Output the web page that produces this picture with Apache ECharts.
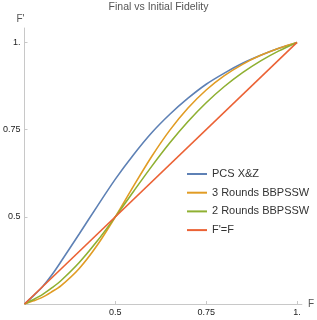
<!DOCTYPE html>
<html>
<head>
<meta charset="utf-8">
<script src="https://cdn.jsdelivr.net/npm/echarts@6/dist/echarts.min.js"></script>
<style>html,body{margin:0;padding:0;background:#fff}#c{width:317px;height:320px}</style>
</head>
<body>
<div id="c"></div>
<script>
var fValues = [0.25, 0.275, 0.30, 0.325, 0.35, 0.40, 0.45, 0.50, 0.55, 0.60, 0.65, 0.70, 0.75, 0.80, 0.85, 0.90, 0.95, 1.00];
var pcsXZ   = [0.25, 0.274, 0.300, 0.333, 0.371, 0.450, 0.530, 0.608, 0.678, 0.741, 0.794, 0.840, 0.880, 0.912, 0.940, 0.963, 0.983, 1.00];
var bb3     = [0.25, 0.259, 0.2697, 0.285, 0.302, 0.3511, 0.4183, 0.50, 0.5879, 0.6729, 0.7485, 0.8119, 0.8635, 0.9045, 0.9371, 0.9629, 0.9835, 1.00];
var bb2     = [0.25, 0.263, 0.2775, 0.296, 0.3167, 0.3682, 0.4303, 0.50, 0.5728, 0.6446, 0.7121, 0.7732, 0.8270, 0.8736, 0.9134, 0.9472, 0.9758, 1.00];
var identity = [0.25, 1.00];
var identityX = [0.25, 1.00];
var tickValues = [0.5, 0.75, 1];
var tickLabels = ['0.5', '0.75', '1.'];
var seriesNames = ['PCS X&Z', '3 Rounds BBPSSW', '2 Rounds BBPSSW', "F'=F"];
var colors = ['#5E81B5', '#E19C24', '#8FB032', '#EB6235'];

function pairs(xs, ys) { return xs.map(function (x, i) { return [x, ys[i]]; }); }
function fmt(v) { var i = tickValues.indexOf(Math.round(v * 100) / 100); return i >= 0 ? tickLabels[i] : ''; }

var font = 'Liberation Sans, Arial, sans-serif';
var chart = echarts.init(document.getElementById('c'), null, { renderer: 'canvas' });
var axisCommon = {
  type: 'value', min: 0.25, interval: 0.25,
  axisLine: { show: true, onZero: false, lineStyle: { color: '#c8c8c8', width: 1 } },
  axisTick: { show: true, inside: true, length: 3, customValues: tickValues, lineStyle: { color: '#c8c8c8' } },
  axisLabel: { customValues: tickValues, formatter: fmt, fontSize: 9, color: '#222', fontFamily: font },
  splitLine: { show: false },
  nameTextStyle: { color: '#555', fontSize: 10, fontFamily: font }
};
chart.setOption({
  animation: false,
  color: colors,
  title: { text: 'Final vs Initial Fidelity', left: 'center', top: -3,
    textStyle: { fontSize: 10.5, fontWeight: 'normal', color: '#555', fontFamily: font } },
  grid: { left: 20, right: 13, top: 28, bottom: 16, containLabel: false },
  xAxis: Object.assign({}, axisCommon, { max: 1.0134, name: 'F', nameLocation: 'end', nameGap: 6,
    axisLabel: Object.assign({}, axisCommon.axisLabel, { margin: 4 }) }),
  yAxis: Object.assign({}, axisCommon, { max: 1.0413, name: "F'", nameLocation: 'end', nameGap: 4,
    nameTextStyle: { color: '#555', fontSize: 10, fontFamily: font, align: 'center', padding: [0, 8, 0, 0] },
    axisLabel: Object.assign({}, axisCommon.axisLabel, { margin: 4 }) }),
  legend: {
    orient: 'vertical', left: 187, top: 168.5, padding: 0, icon: 'rect', itemWidth: 20, itemHeight: 2, itemGap: 7.7,
    data: seriesNames,
    textStyle: { fontSize: 11, color: '#333', fontFamily: font, padding: [0, 0, 0, 0] }
  },
  series: [
    { name: seriesNames[0], type: 'line', data: pairs(fValues, pcsXZ), smooth: 0.3, symbol: 'none', lineStyle: { width: 1.6 }, z: 2 },
    { name: seriesNames[1], type: 'line', data: pairs(fValues, bb3), smooth: 0.3, symbol: 'none', lineStyle: { width: 1.6 }, z: 3 },
    { name: seriesNames[2], type: 'line', data: pairs(fValues, bb2), smooth: 0.3, symbol: 'none', lineStyle: { width: 1.6 }, z: 4 },
    { name: seriesNames[3], type: 'line', data: pairs(identityX, identity), symbol: 'none', lineStyle: { width: 1.6 }, z: 5 }
  ]
});
</script>
</body>
</html>
